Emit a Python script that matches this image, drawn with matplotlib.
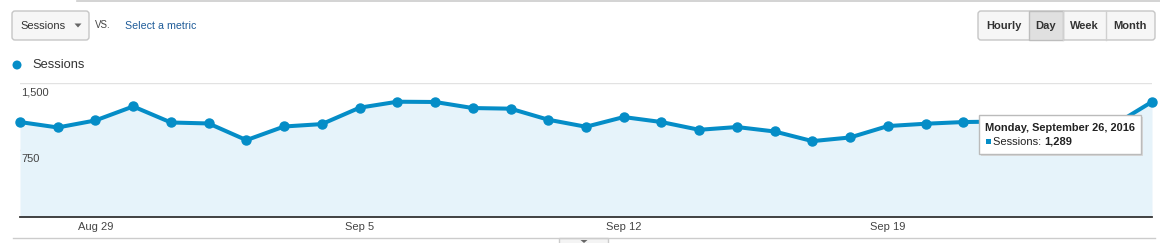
import matplotlib
matplotlib.use("Agg")
import matplotlib.pyplot as plt
from matplotlib.patches import Rectangle, FancyBboxPatch, Circle, Polygon
import pandas as pd

# data (daily sessions, Aug 27 - Sep 26, 2016)
dates = pd.date_range("2016-08-27", "2016-09-26", freq="D")
sessions = [1062, 1001, 1080, 1237, 1057, 1046, 859, 1012, 1039, 1223,
            1290, 1287, 1219, 1212, 1088, 1009, 1118, 1062, 975, 1006,
            956, 848, 889, 1017, 1043, 1062, 1068, 1060, 1072, 1031, 1289]
tick_dates = ["2016-08-29", "2016-09-05", "2016-09-12", "2016-09-19"]
tick_labels = ["Aug 29", "Sep 5", "Sep 12", "Sep 19"]
y_ticks = [750, 1500]
y_labels = ["750", "1,500"]
buttons = ["Hourly", "Day", "Week", "Month"]
metric = "Sessions"

BLUE = "#058dc7"
FILL = "#e6f3fa"
TXT = "#333333"

plt.rcParams["font.family"] = ["Liberation Sans", "DejaVu Sans"]

W, H = 1160, 243
fig = plt.figure(figsize=(W / 100, H / 100), dpi=100)

# main chart area, positioned in pixels
left, right, top, bottom = 20, 1152, 83, 216.7
ax = fig.add_axes([left / W, 1 - bottom / H, (right - left) / W, (bottom - top) / H])
ax.set_facecolor("none")
ax.fill_between(dates, sessions, 0, color=FILL, lw=0, zorder=1)
ax.plot(dates, sessions, color=BLUE, lw=2.9, marker="o", ms=6.5,
        clip_on=False, zorder=3, solid_joinstyle="round")
ax.set_xlim(dates[0], dates[-1])
ax.set_ylim(0, 1500)
ax.set_yticks(y_ticks)
ax.set_yticklabels([])
ax.yaxis.grid(True, color="#e2e2e2", lw=1)
ax.set_axisbelow(True)
ax.set_xticks(pd.to_datetime(tick_dates))
ax.set_xticklabels(tick_labels)
ax.tick_params(axis="both", length=0)
ax.tick_params(axis="x", pad=4, labelsize=8, labelcolor="#444444")
for s in ["top", "left", "right"]:
    ax.spines[s].set_visible(False)
ax.spines["bottom"].set_color("#333333")
ax.spines["bottom"].set_linewidth(1.3)
ax.spines["bottom"].set_zorder(4)
for v, lab in zip(y_ticks, y_labels):
    ax.annotate(lab, xy=(0, v), xycoords=ax.get_yaxis_transform(),
                xytext=(1, -3), textcoords="offset points",
                ha="left", va="top", fontsize=8, color="#444444", zorder=5)

# overlay in pixel coordinates for the UI chrome
ov = fig.add_axes([0, 0, 1, 1])
ov.set_xlim(0, W)
ov.set_ylim(H, 0)
ov.axis("off")
ov.set_facecolor("none")

ov.plot([77, W], [0.8, 0.8], color="#cccccc", lw=1.2)
ov.plot([13, 1155], [238, 238], color="#cccccc", lw=1)
ov.add_patch(Rectangle((559, 238), 49, 6, fc="#f4f4f4", ec="#cccccc", lw=1))
ov.add_patch(Polygon([(580.5, 240), (587.5, 240), (584, 243)], closed=True, fc="#666666", ec="none"))

# metric dropdown
ov.add_patch(FancyBboxPatch((12, 11), 77, 29, boxstyle="round,pad=0,rounding_size=3",
                            fc="#f6f6f6", ec="#c6c6c6", lw=1))
ov.text(20, 26, metric, fontsize=8, color=TXT, va="center", ha="left")
ov.add_patch(Polygon([(74.5, 23.5), (81.5, 23.5), (78, 27.5)], closed=True, fc="#666666", ec="none"))
ov.text(95, 25, "VS.", fontsize=7, color="#444444", va="center", ha="left")
ov.text(125, 26, "Select a metric", fontsize=7.7, color="#1f5c99", va="center", ha="left")

# period buttons
edges = [978, 1029, 1063, 1106, 1155]
ov.add_patch(FancyBboxPatch((978, 11), 177, 29, boxstyle="round,pad=0,rounding_size=3",
                            fc="#f6f6f6", ec="#c6c6c6", lw=1, zorder=1))
for i, b in enumerate(buttons):
    x0, x1 = edges[i], edges[i + 1]
    if b == "Day":
        ov.add_patch(Rectangle((x0, 11), x1 - x0, 29, fc="#e0e0e0", ec="#bdbdbd", lw=1, zorder=2))
    elif i > 0:
        ov.plot([x0, x0], [11, 40], color="#d0d0d0", lw=1, zorder=2)
    ov.text((x0 + x1) / 2, 26, b, fontsize=8, fontweight="bold", color=TXT,
            ha="center", va="center", zorder=3)

# legend
ov.add_patch(Circle((17, 65), 4.5, fc=BLUE, ec="none"))
ov.text(32, 65, metric, fontsize=9.3, color=TXT, va="center", ha="left")

# tooltip for the last point
tx, ty, tw, th = 979, 115, 162, 39
ov.add_patch(Rectangle((tx + 2, ty + 2), tw, th, fc="#d8d8d8", ec="none", zorder=5))
ov.add_patch(Rectangle((tx, ty), tw, th, fc="white", ec="#bbbbbb", lw=1, zorder=6))
ov.text(tx + 6, ty + 12.5, dates[-1].strftime("%A, %B %d, %Y"), fontsize=7.9,
        fontweight="bold", color="#222222", va="center", ha="left", zorder=7)
ov.add_patch(Rectangle((tx + 7, ty + 24), 4.5, 4.5, fc=BLUE, ec="none", zorder=7))
t1 = ov.text(tx + 14, ty + 26.5, metric + ": ", fontsize=8, color="#222222",
             va="center", ha="left", zorder=7)
ov.annotate(f"{sessions[-1]:,}", xy=(1, 0.5), xycoords=t1, fontsize=8, fontweight="bold",
            color="#222222", va="center", ha="left", zorder=7)

fig.savefig("out.png", dpi=100)
